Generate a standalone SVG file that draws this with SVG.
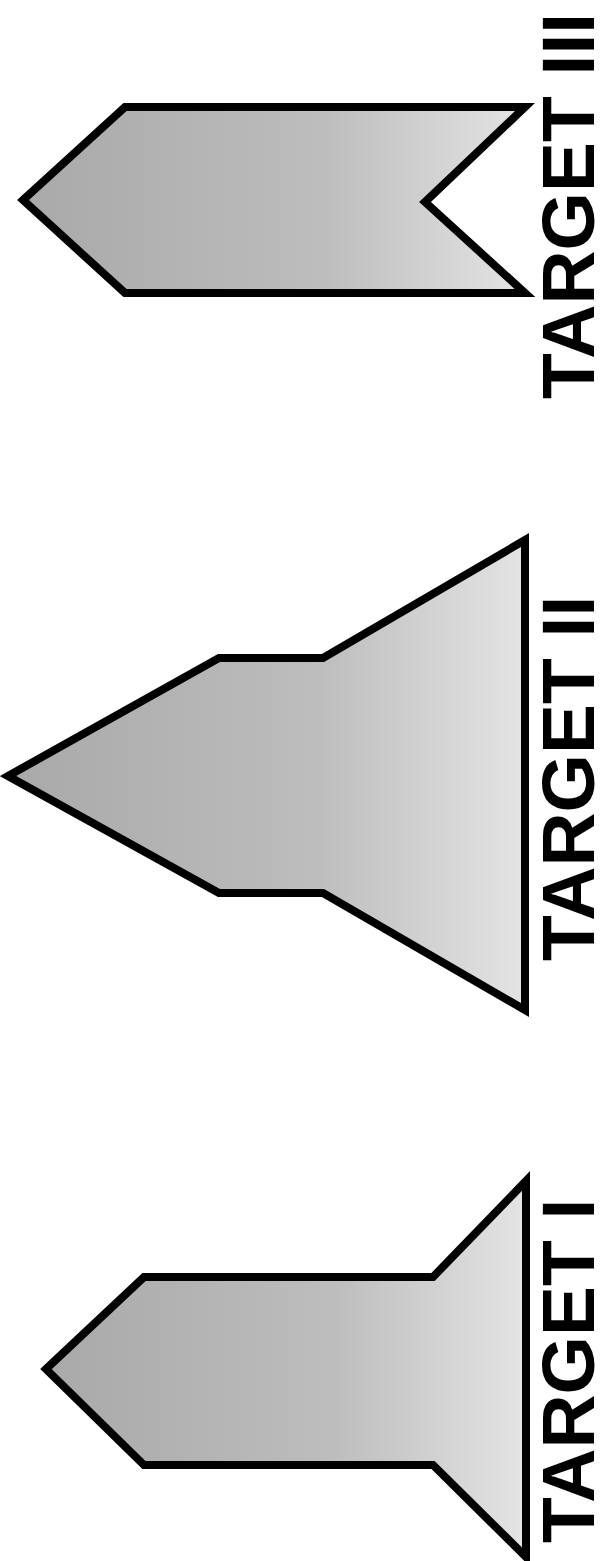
<svg xmlns="http://www.w3.org/2000/svg" width="600" height="1561" viewBox="0 0 600 1561">
<style>
.shape{stroke:#000;stroke-width:8;stroke-linejoin:miter;fill:url(#grain)}
.lbl{font-family:"Liberation Sans",Arial,sans-serif;font-weight:bold;font-size:75px;fill:#000}
</style>
<defs>
<linearGradient id="grain" x1="0" y1="0" x2="1" y2="0">
<stop offset="0" stop-color="#a9a9a9"/>
<stop offset="0.6" stop-color="#bdbdbd"/>
<stop offset="1" stop-color="#e4e4e4"/>
</linearGradient>
</defs>
<rect width="600" height="1561" fill="#fff"/>
<g id="target3">
<polygon class="shape" points="23,200 125,107 525,107 425,202 525,293 125,293"/>
<text class="lbl" transform="translate(594,399) rotate(-90)">TARGET III</text>
</g>
<g id="target2">
<polygon class="shape" points="8,776 219,658 323,658 525,540 525,1010 323,893 219,893"/>
<text class="lbl" transform="translate(594,961) rotate(-90)">TARGET II</text>
</g>
<g id="target1">
<polygon class="shape" points="46,1369 144,1277 433,1277 526,1181 526,1557 433,1465 144,1465"/>
<text class="lbl" transform="translate(594,1543) rotate(-90)">TARGET I</text>
</g>
<g id="connectors"></g>
</svg>
